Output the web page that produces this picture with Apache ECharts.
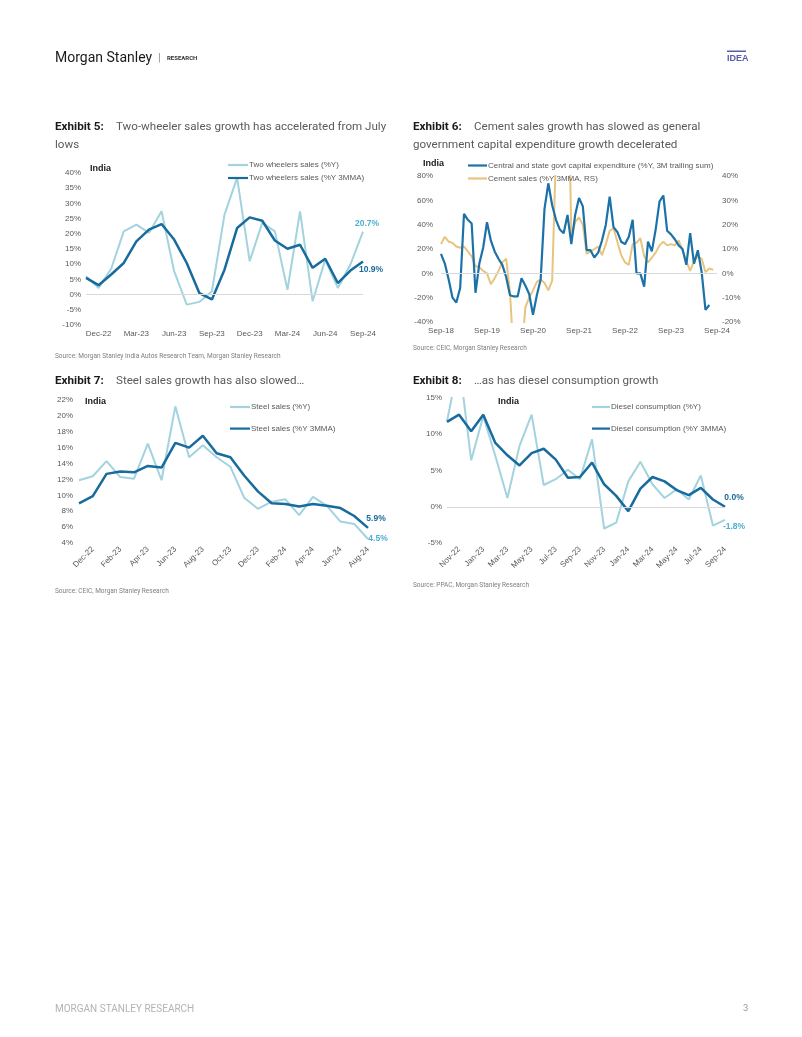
<!DOCTYPE html>
<html>
<head>
<meta charset="utf-8">
<script src="https://cdn.jsdelivr.net/npm/echarts@6/dist/echarts.min.js"></script>
<style>
html,body{margin:0;padding:0;background:#fff;}
#c{width:802px;height:1037px;}
</style>
</head>
<body>
<div id="c"></div>
<script>
// ---------- Exhibit 5: Two-wheeler sales ----------
const twCats = ['Nov-22','Dec-22','Jan-23','Feb-23','Mar-23','Apr-23','May-23','Jun-23','Jul-23','Aug-23','Sep-23','Oct-23','Nov-23','Dec-23','Jan-24','Feb-24','Mar-24','Apr-24','May-24','Jun-24','Jul-24','Aug-24','Sep-24'];
const twYoY = [6, 2.2, 8.5, 20.8, 23, 20.3, 27.4, 7.7, -3.3, -2.4, 1.1, 26.3, 38.4, 11, 23.6, 20.8, 1.6, 27.4, -2.2, 11.5, 2.2, 9.9, 20.7];
const tw3MMA = [5.5, 3.1, 6.6, 10.4, 17.5, 21.4, 23.2, 18.1, 10.4, 0.5, -1.6, 8.2, 21.9, 25.4, 24.3, 17.8, 15.1, 16.4, 8.8, 11.8, 3.8, 7.9, 10.9];

// ---------- Exhibit 6: Capex vs cement ----------
const cxCats = ['Sep-18','Oct-18','Nov-18','Dec-18','Jan-19','Feb-19','Mar-19','Apr-19','May-19','Jun-19','Jul-19','Aug-19',
'Sep-19','Oct-19','Nov-19','Dec-19','Jan-20','Feb-20','Mar-20','Apr-20','May-20','Jun-20','Jul-20','Aug-20',
'Sep-20','Oct-20','Nov-20','Dec-20','Jan-21','Feb-21','Mar-21','Apr-21','May-21','Jun-21','Jul-21','Aug-21',
'Sep-21','Oct-21','Nov-21','Dec-21','Jan-22','Feb-22','Mar-22','Apr-22','May-22','Jun-22','Jul-22','Aug-22',
'Sep-22','Oct-22','Nov-22','Dec-22','Jan-23','Feb-23','Mar-23','Apr-23','May-23','Jun-23','Jul-23','Aug-23',
'Sep-23','Oct-23','Nov-23','Dec-23','Jan-24','Feb-24','Mar-24','Apr-24','May-24','Jun-24','Jul-24','Aug-24','Sep-24'];
const capex = [16, 8, -5, -20, -24, -12, 49, 44, 41, -16,
  8, 21, 42, 27, 18, 12, 7, -3, -18, -19,
  -19, -4, -10, -17, -34, -18, -5, 53, 74, 56,
  44, 36, 33, 48, 24, 48, 62, 55, 19, 19,
  13, 17, 27, 40, 63, 38, 34, 26, 24, 30,
  44, 0, 0, -11, 26, 18, 36, 59, 64, 35,
  32, 28, 23, 20, 7, 33, 8, 19, 1, -30,
  -26];
const cement = [12, 15, 13, 12.5, 11, 10.5, 11, 9, 7, 3,
  2.5, 1, 0, -4.5, -2, 1, 4.5, 6, -8, -35,
  -40, -35, -14, -10, -7, -3.5, -2.5, -4, -7, -3,
  50, 80, 80, 100, 15, 21, 23, 20, 8, 9,
  10, 11, 7.5, 12, 17.5, 18.5, 13, 7.5, 4.5, 3.5,
  12, 12.5, 14.5, 7, 4.5, 6.5, 8.5, 11.5, 13, 11.5,
  12, 11.5, 13.5, 9.5, 5, 1, 5, 7, 6, 0.5,
  2, 1.5];

// ---------- Exhibit 7: Steel ----------
const stCats = ['Nov-22','Dec-22','Jan-23','Feb-23','Mar-23','Apr-23','May-23','Jun-23','Jul-23','Aug-23','Sep-23','Oct-23','Nov-23','Dec-23','Jan-24','Feb-24','Mar-24','Apr-24','May-24','Jun-24','Jul-24','Aug-24'];
const stYoY = [11.9, 12.4, 14.3, 12.3, 12.1, 16.5, 11.9, 21.2, 14.8, 16.3, 14.8, 13.6, 9.7, 8.3, 9.2, 9.5, 7.5, 9.8, 8.7, 6.7, 6.4, 4.5];
const st3MMA = [9.0, 9.9, 12.7, 13.0, 12.9, 13.7, 13.5, 16.6, 16.0, 17.5, 15.3, 14.8, 12.5, 10.5, 9.0, 8.9, 8.6, 8.9, 8.7, 8.4, 7.4, 5.9];

// ---------- Exhibit 8: Diesel ----------
const dsCats = ['Oct-22','Nov-22','Dec-22','Jan-23','Feb-23','Mar-23','Apr-23','May-23','Jun-23','Jul-23','Aug-23','Sep-23','Oct-23','Nov-23','Dec-23','Jan-24','Feb-24','Mar-24','Apr-24','May-24','Jun-24','Jul-24','Aug-24','Sep-24'];
const dsYoY = [11.8, 20, 6.4, 12.5, 7.0, 1.2, 8.4, 12.7, 3.0, 3.8, 5.1, 3.8, 9.3, -3.0, -2.2, 3.5, 6.2, 3.1, 1.2, 2.4, 1.0, 4.3, -2.6, -1.8];
const ds3MMA = [11.7, 12.7, 10.4, 12.7, 8.8, 7.1, 5.7, 7.4, 8.0, 6.5, 4.0, 4.1, 6.1, 3.1, 1.5, -0.6, 2.5, 4.1, 3.5, 2.3, 1.6, 2.6, 1.0, 0.0];

// ---------- styling ----------
const LIGHT = '#a2d3de', DARK = '#176b9d', LIGHT_LBL = '#4eaed2';
const BLUE = '#1c72a8', GOLD = '#e7c47f';
const AX = '#595959', ZERO = '#d9d9d9';
const FF = '"Liberation Sans", Arial, sans-serif';
const TF = 'Roboto, "Liberation Sans", sans-serif';

function T(x, y, text, font, fill, align) {
  return {type:'text', x:x, y:y, silent:true,
    style:{text:text, font:font, fill:fill, textAlign:align||'left', textVerticalAlign:'middle'}};
}
function zeroLine() {
  return {silent:true, symbol:'none', label:{show:false}, animation:false,
    lineStyle:{color:ZERO, width:1, type:'solid'}, data:[{yAxis:0}]};
}
function endLbl(color, dx, dy) {
  return {show:true, color:color, fontFamily:FF, fontWeight:'bold', fontSize:8.5,
    distance:0, align:'center', verticalAlign:'middle', offset:[dx, dy],
    formatter: p => Number(p.value).toFixed(1) + '%'};
}
function valAxis(grid, min, max, step, margin, pos) {
  return {type:'value', gridIndex:grid, min:min, max:max, interval:step, position:pos||'left',
    axisLine:{show:false}, axisTick:{show:false}, splitLine:{show:false},
    axisLabel:{formatter:'{value}%', color:AX, fontFamily:FF, fontSize:8, margin:margin}};
}
function catAxis(grid, cats, every, offset, rotate, margin) {
  return {type:'category', gridIndex:grid, data:cats, boundaryGap:false,
    axisLine:{show:false}, axisTick:{show:false}, splitLine:{show:false},
    axisLabel:{color:AX, fontFamily:FF, fontSize:8, rotate:rotate||0, margin:margin,
      interval:(i) => (i - offset) % every === 0 && i >= offset}};
}
function legend(left, centerY, spacing, names, w) {
  return {left:left, top:centerY - 4, orient:'vertical', padding:0, icon:'rect',
    itemWidth:w||20, itemHeight:2.2, itemGap:spacing - 8,
    selectedMode:false, data:names,
    textStyle:{color:AX, fontFamily:FF, fontSize:8, padding:[0,0,0,-4]}};
}
function line(name, x, y, data, color, width, extra) {
  return Object.assign({name:name, type:'line', xAxisIndex:x, yAxisIndex:y, data:data,
    symbol:'none', showSymbol:false, clip:true, animation:false,
    lineStyle:{color:color, width:width}, itemStyle:{color:color}}, extra||{});
}

const chart = echarts.init(document.getElementById('c'), null, {renderer:'canvas'});
const gridBase = {containLabel:false, outerBoundsMode:'none'};

const option = {
  backgroundColor:'#ffffff',
  animation:false,
  grid:[
    Object.assign({left:86, top:173, width:277, height:152}, gridBase),
    Object.assign({left:441, top:176, width:276, height:146}, gridBase),
    Object.assign({left:79, top:400, width:289, height:143}, gridBase),
    Object.assign({left:447, top:398, width:278, height:145}, gridBase)
  ],
  xAxis:[
    catAxis(0, twCats, 3, 1, 0, 5),
    catAxis(1, cxCats, 12, 0, 0, 5),
    catAxis(2, stCats, 2, 1, 45, 5),
    catAxis(3, dsCats, 2, 1, 45, 5)
  ],
  yAxis:[
    valAxis(0, -10, 40, 5, 5),
    valAxis(1, -40, 80, 20, 8),
    valAxis(1, -20, 40, 10, 5, 'right'),
    valAxis(2, 4, 22, 2, 6),
    valAxis(3, -5, 15, 5, 5)
  ],
  legend:[
    legend(228, 165, 13, ['Two wheelers sales (%Y)', 'Two wheelers sales (%Y 3MMA)']),
    legend(468, 165.5, 13, ['Central and state govt capital expenditure (%Y, 3M trailing sum)', 'Cement sales (%Y 3MMA, RS)'], 19),
    legend(230, 407, 21.6, ['Steel sales (%Y)', 'Steel sales (%Y 3MMA)']),
    legend(592, 407, 21.6, ['Diesel consumption (%Y)', 'Diesel consumption (%Y 3MMA)'], 18)
  ],
  series:[
    line('Two wheelers sales (%Y)', 0, 0, twYoY, LIGHT, 2, {markLine:zeroLine(), endLabel:endLbl(LIGHT_LBL, 4, -8)}),
    line('Two wheelers sales (%Y 3MMA)', 0, 0, tw3MMA, DARK, 2.5, {endLabel:endLbl(DARK, 8, 8)}),
    line('Central and state govt capital expenditure (%Y, 3M trailing sum)', 1, 1, capex, BLUE, 2.2, {markLine:zeroLine(), z:3}),
    line('Cement sales (%Y 3MMA, RS)', 1, 2, cement, GOLD, 2, {z:2}),
    line('Steel sales (%Y)', 2, 3, stYoY, LIGHT, 2, {endLabel:endLbl(LIGHT_LBL, 10, 0)}),
    line('Steel sales (%Y 3MMA)', 2, 3, st3MMA, DARK, 2.5, {endLabel:endLbl(DARK, 8, -9)}),
    line('Diesel consumption (%Y)', 3, 4, dsYoY, LIGHT, 2, {markLine:zeroLine(), endLabel:endLbl(LIGHT_LBL, 9, 7)}),
    line('Diesel consumption (%Y 3MMA)', 3, 4, ds3MMA, DARK, 2.5, {endLabel:endLbl(DARK, 9, -9)})
  ],
  graphic:[
    // header
    T(55, 58, 'Morgan Stanley', '14px ' + TF, '#1a1a1a'),
    T(158, 58, '|', '11px ' + TF, '#8a8a8a'),
    T(167, 58.5, 'RESEARCH', 'bold 6px ' + TF, '#333333'),
    {type:'rect', silent:true, shape:{x:727, y:50.5, width:19, height:1.5}, style:{fill:'#5560a8'}},
    T(727, 58.5, 'IDEA', 'bold 9px "Liberation Sans Narrow", ' + FF, '#5560a8'),
    // Exhibit 5
    T(55, 127, 'Exhibit 5:', 'bold 11.7px ' + TF, '#1a1a1a'),
    T(116, 127, 'Two-wheeler sales growth has accelerated from July', '11.6px ' + TF, '#5a5a5a'),
    T(55, 145, 'lows', '11.6px ' + TF, '#5a5a5a'),
    T(90, 169, 'India', 'bold 9px ' + FF, '#1a1a1a'),
    T(55, 356, 'Source: Morgan Stanley India Autos Research Team, Morgan Stanley Research', '6.5px ' + TF, '#7f7f7f'),
    // Exhibit 6
    T(413, 127, 'Exhibit 6:', 'bold 11.7px ' + TF, '#1a1a1a'),
    T(474, 127, 'Cement sales growth has slowed as general', '11.6px ' + TF, '#5a5a5a'),
    T(413, 145, 'government capital expenditure growth decelerated', '11.6px ' + TF, '#5a5a5a'),
    T(423, 164, 'India', 'bold 9px ' + FF, '#1a1a1a'),
    T(413, 348, 'Source: CEIC, Morgan Stanley Research', '6.5px ' + TF, '#7f7f7f'),
    // Exhibit 7
    T(55, 381, 'Exhibit 7:', 'bold 11.7px ' + TF, '#1a1a1a'),
    T(116, 381, 'Steel sales growth has also slowed\u2026', '11.6px ' + TF, '#5a5a5a'),
    T(85, 402, 'India', 'bold 9px ' + FF, '#1a1a1a'),
    T(55, 591, 'Source: CEIC, Morgan Stanley Research', '6.5px ' + TF, '#7f7f7f'),
    // Exhibit 8
    T(413, 381, 'Exhibit 8:', 'bold 11.7px ' + TF, '#1a1a1a'),
    T(474, 381, '\u2026as has diesel consumption growth', '11.6px ' + TF, '#5a5a5a'),
    T(498, 402, 'India', 'bold 9px ' + FF, '#1a1a1a'),
    T(413, 585, 'Source: PPAC, Morgan Stanley Research', '6.5px ' + TF, '#7f7f7f'),
    // footer
    T(55, 1009, 'MORGAN STANLEY RESEARCH', '10px ' + TF, '#b3b3b3'),
    T(743, 1009, '3', '9.5px ' + TF, '#9a9a9a')
  ]
};
chart.setOption(option);
</script>
</body>
</html>
